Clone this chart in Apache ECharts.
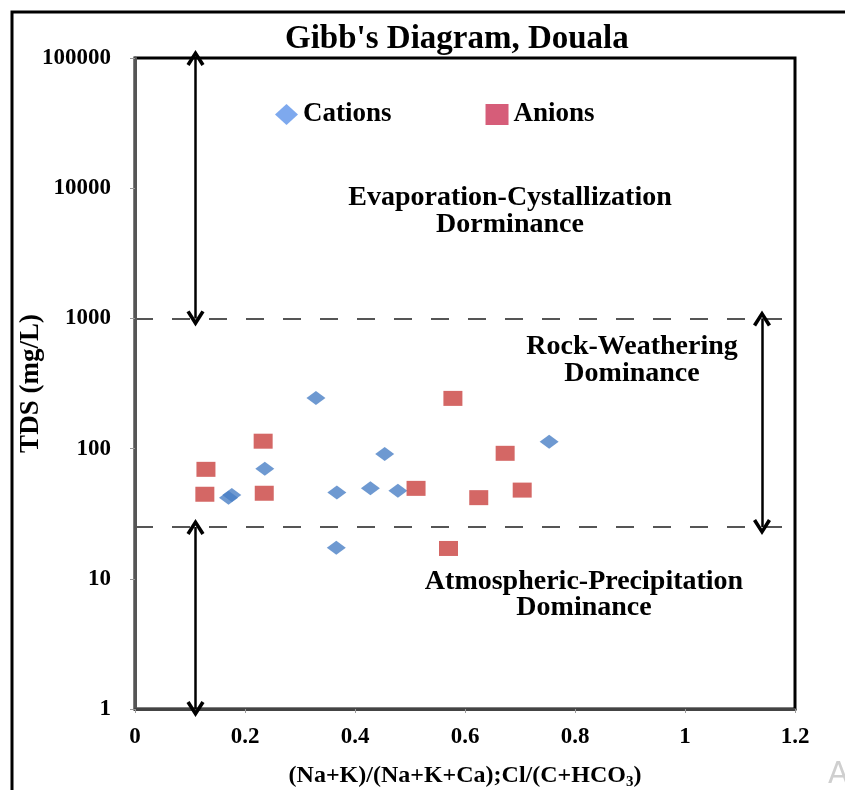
<!DOCTYPE html>
<html>
<head>
<meta charset="utf-8">
<script src="https://cdn.jsdelivr.net/npm/echarts@6/dist/echarts.min.js"></script>
<style>
  html, body { margin: 0; padding: 0; background: #fff; }
  #chart { width: 845px; height: 790px; }
</style>
</head>
<body>
<div id="chart"></div>
<script>
// Gibbs diagram data
var cationsX = [0.170, 0.176, 0.236, 0.329, 0.367, 0.366, 0.428, 0.454, 0.478, 0.753];
var cationsY = [42, 44, 70, 245, 46, 17.3, 49.5, 91, 47.5, 113];
var anionsX = [0.127, 0.129, 0.233, 0.235, 0.511, 0.570, 0.578, 0.625, 0.673, 0.704];
var anionsY = [44.6, 69.3, 114, 45.4, 49.5, 17.1, 243, 42, 92, 48];
var yTicks = [1, 10, 100, 1000, 10000, 100000];
var boundaryY = [1000, 25];          // dashed zone limits
var arrowLeftX = 0.11;
var arrowRightX = 1.14;

function pairs(xs, ys) {
  return xs.map(function (x, i) { return [x, ys[i]]; });
}

var FONT = '"Liberation Serif", "DejaVu Serif", serif';
// open arrow head (tip at top)
var chevron = 'path://M0,8.6 L5,0 L10,8.6 L8.3,9.8 L5,4 L1.7,9.8 Z';

var myChart = echarts.init(document.getElementById('chart'));

var option = {
  animation: false,
  title: {
    text: "Gibb's Diagram, Douala",
    left: 280,
    top: 18,
    textStyle: { fontFamily: FONT, fontWeight: 'bold', fontSize: 33, color: '#000' }
  },
  legend: {
    left: 270,
    top: 96,
    itemWidth: 23,
    itemHeight: 21,
    itemGap: 94,
    textStyle: { fontFamily: FONT, fontWeight: 'bold', fontSize: 27, color: '#000' },
    data: [
      { name: 'Cations', icon: 'diamond', itemStyle: { color: '#5E93EA' } },
      { name: 'Anions', icon: 'rect', itemStyle: { color: '#CC3558' } }
    ]
  },
  grid: {
    left: 135, right: 50, top: 58, bottom: 81,
    outerBoundsMode: 'none',
    show: true, borderColor: '#000', borderWidth: 3
  },
  xAxis: {
    type: 'value',
    min: 0, max: 1.2, interval: 0.2,
    name: '{n|(Na+K)/(Na+K+Ca);Cl/(C+HCO}{s|3}{n|)}',
    nameLocation: 'middle',
    nameGap: 52,
    nameMoveOverlap: false,
    nameTextStyle: {
      rich: {
        n: { fontFamily: FONT, fontWeight: 'bold', fontSize: 24, color: '#000' },
        s: { fontFamily: FONT, fontWeight: 'bold', fontSize: 15, color: '#000', padding: [14, 0, 0, 0] }
      }
    },
    splitLine: { show: false },
    axisLine: { lineStyle: { color: '#444', width: 3 } },
    axisTick: { show: true, length: 4, lineStyle: { color: '#999', width: 1 } },
    axisLabel: {
      margin: 17,
      fontFamily: FONT, fontWeight: 'bold', fontSize: 23, color: '#000',
      formatter: function (v) { return String(Math.round(v * 10) / 10); }
    }
  },
  yAxis: {
    type: 'log',
    logBase: 10,
    min: yTicks[0], max: yTicks[yTicks.length - 1],
    name: 'TDS (mg/L)',
    nameLocation: 'middle',
    nameGap: 90,
    nameMoveOverlap: false,
    nameTextStyle: { fontFamily: FONT, fontWeight: 'bold', fontSize: 27, color: '#000' },
    splitLine: { show: false },
    axisLine: { lineStyle: { color: '#555', width: 3 } },
    axisTick: { show: true, length: 5, lineStyle: { color: '#999', width: 1 } },
    axisLabel: {
      margin: 24,
      fontFamily: FONT, fontWeight: 'bold', fontSize: 23, color: '#000',
      formatter: function (v) { return String(Math.round(v)); }
    }
  },
  series: [
    {
      name: 'Cations',
      type: 'scatter',
      symbol: 'diamond',
      symbolSize: [19, 14],
      itemStyle: { color: '#4A7FC6' },
      data: pairs(cationsX, cationsY),
      z: 3
    },
    {
      name: 'Anions',
      type: 'scatter',
      symbol: 'rect',
      symbolSize: [19, 15],
      itemStyle: { color: '#C9413F' },
      data: pairs(anionsX, anionsY),
      z: 3,
      markLine: {
        silent: true,
        symbol: 'none',
        label: { show: false },
        lineStyle: { color: '#555', width: 2, type: [18, 19] },
        data: boundaryY.map(function (v) { return { yAxis: v }; })
      }
    },
    {
      name: 'arrows',
      type: 'scatter',
      data: [],
      markLine: {
        silent: true,
        symbol: [chevron, chevron],
        symbolSize: [18, 16],
        label: { show: false },
        lineStyle: { color: '#000', width: 2.5, type: 'solid' },
        data: [
          [{ coord: [arrowLeftX, yTicks[5]] }, { coord: [arrowLeftX, boundaryY[0]] }],
          [{ coord: [arrowLeftX, boundaryY[1]] }, { coord: [arrowLeftX, yTicks[0]] }],
          [{ coord: [arrowRightX, boundaryY[0]] }, { coord: [arrowRightX, boundaryY[1]] }]
        ]
      }
    }
  ],
  graphic: [
    {
      type: 'rect', silent: true, z: -1,
      shape: { x: 12, y: 12, width: 850, height: 800 },
      style: { fill: 'none', stroke: '#000', lineWidth: 3 }
    },
    {
      type: 'text',
      position: [510, 184],
      style: {
        text: 'Evaporation-Cystallization\nDorminance',
        align: 'center',
        font: 'bold 28px ' + FONT, fill: '#000', lineHeight: 27
      }
    },
    {
      type: 'text',
      position: [632, 333],
      style: {
        text: 'Rock-Weathering\nDominance',
        align: 'center',
        font: 'bold 28px ' + FONT, fill: '#000', lineHeight: 27
      }
    },
    {
      type: 'text',
      position: [584, 569],
      style: {
        text: 'Atmospheric-Precipitation\nDominance',
        align: 'center',
        font: 'bold 28px ' + FONT, fill: '#000', lineHeight: 26
      }
    },
    {
      type: 'text',
      position: [828, 760],
      style: { text: 'A', font: '30px "DejaVu Sans", sans-serif', fill: '#cfcfcf' }
    }
  ]
};

myChart.setOption(option);
</script>
</body>
</html>
